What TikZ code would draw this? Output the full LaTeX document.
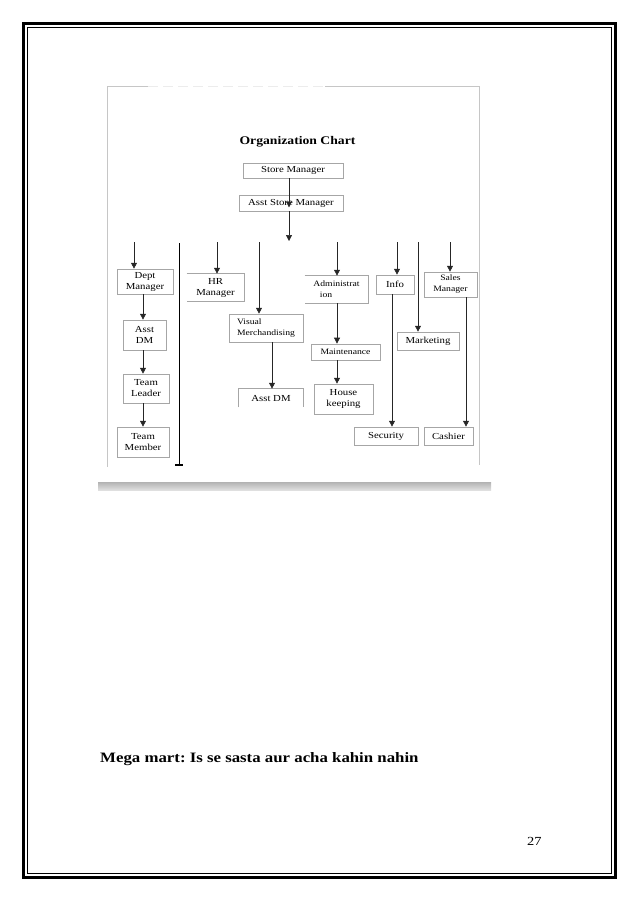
\documentclass[tikz,border=0pt]{standalone}
\usepackage{fontspec}
\setmainfont[FakeStretch=1.17]{Liberation Serif}
\usetikzlibrary{arrows.meta}
\frenchspacing

\begin{document}
\begin{tikzpicture}[x=0.933pt, y=-0.933pt,
    boxline/.style={draw=gray!70, line width=0.6pt},
    orgbox/.style={boxline, inner sep=0pt, align=center, font=\fontsize{8.6}{10.3}\selectfont},
    openbox/.style={orgbox, draw=none},
    smalltxt/.style={font=\fontsize{7.7}{10.3}\selectfont},
    arr/.style={draw=black!85, line width=0.5pt, -{Triangle[width=5.5pt,length=5.5pt]}},
    chartframe/.style={draw=gray!45, line width=0.8pt}]
\useasboundingbox (0,0) rectangle (638,903);
% Page border
    \draw[line width=2.6pt] (23.5,23.5) rectangle (615.5,877.5);
    \draw[line width=0.8pt] (27.5,27.5) rectangle (611,873.5);
% Chart frame and its shadow bar
    \draw[chartframe] (148,86) -- (107,86) -- (107,467);
    \draw[chartframe, gray!15, dash pattern=on 9pt off 5pt] (148,86) -- (325,86);
    \draw[chartframe] (325,86) -- (479,86) -- (479,465);
    \shade[top color=gray!60, bottom color=gray!25] (98,482) rectangle (491,490);
% Title
    \node[anchor=base, inner sep=0pt] (title) at (297.5,144) {\fontsize{10.9}{13}\selectfont\bfseries Organization Chart};
% Top of the chart
    \node[orgbox, minimum width=93.3pt, minimum height=14pt] (store) at (293,170.5) {Store Manager};
    \node[orgbox, minimum width=97pt, minimum height=15pt] (asst) at (291,203) {Asst Store Manager};
% Columns and free ends
    \coordinate (cS) at (289,0);
    \coordinate (cD) at (143,0);
    \coordinate (cV) at (272,0);
    \coordinate (cA) at (337,0);
    \coordinate (cI) at (392,0);
    \coordinate (cC) at (466,0);
    \coordinate (hub) at (289,241);
    \coordinate (tD) at (134,242);
    \coordinate (tH) at (217,242);
    \coordinate (tV) at (259,242);
    \coordinate (tA) at (337,242);
    \coordinate (tI) at (397,242);
    \coordinate (tM) at (418,242);
    \coordinate (tS) at (450,242);
    \coordinate (sepT) at (179,243);
    \coordinate (sepB) at (179,465);
% Department column
    \node[orgbox, minimum width=52.2pt, minimum height=23.3pt] (dept) at (145,281.5) {Dept\\Manager};
    \node[orgbox, minimum width=40.1pt, minimum height=28pt] (adm) at (144.5,335) {Asst\\DM};
    \node[orgbox, minimum width=42.9pt, minimum height=27pt] (lead) at (146,388.5) {Team\\Leader};
    \node[orgbox, minimum width=48.5pt, minimum height=28pt] (member) at (143,442) {Team\\Member};
% HR and visual merchandising
    \node[openbox, minimum width=53.2pt, minimum height=25.2pt] (hr) at (215.5,287.5) {HR\\Manager};
    \node[orgbox, smalltxt, align=left, minimum width=69pt, minimum height=26.1pt] (vm) at (266,328) {Visual\\Merchandising};
    \node[openbox, minimum width=59.7pt, minimum height=16.8pt] (vmdm) at (271,398) {Asst DM};
% Administration column
    \node[openbox, smalltxt, align=left, minimum width=58.8pt, minimum height=25.2pt] (admin) at (336.5,289.5) {Administrat\\\hspace*{6pt}ion};
    \node[orgbox, smalltxt, minimum width=64.4pt, minimum height=15pt] (maint) at (345.5,352) {Maintenance};
    \node[orgbox, minimum width=55pt, minimum height=28pt] (house) at (343.5,399) {House\\keeping};
% Info, marketing and sales
    \node[orgbox, minimum width=35.5pt, minimum height=17.7pt] (info) at (395,284.5) {Info};
    \node[orgbox, minimum width=59.7pt, minimum height=16.8pt] (security) at (386,436) {Security};
    \node[orgbox, minimum width=57.8pt, minimum height=16.8pt] (mkt) at (428,341) {Marketing};
    \node[orgbox, smalltxt, minimum width=49.4pt, minimum height=23.3pt] (sales) at (450.5,284.5) {Sales\\Manager};
    \node[orgbox, minimum width=45.7pt, minimum height=16.8pt] (cashier) at (448.5,436) {Cashier};
% Open box sides
    \draw[boxline] (hr.north west) -- (hr.north east) -- (hr.south east) -- (hr.south west);
    \draw[boxline] (admin.north west) -- (admin.north east) -- (admin.south east) -- (admin.south west);
    \draw[boxline] (vmdm.south west) -- (vmdm.north west) -- (vmdm.north east) -- (vmdm.south east);
% Arrows
    \draw[arr, shorten >=3.7pt] (cS |- store.south) -- (cS |- asst.south);
    \draw[arr] (cS |- asst.south) -- (hub);
    \draw[arr] (tD) -- (tD |- dept.north);
    \draw[arr] (cD |- dept.south) -- (cD |- adm.north);
    \draw[arr] (cD |- adm.south) -- (cD |- lead.north);
    \draw[arr] (cD |- lead.south) -- (cD |- member.north);
    \draw[arr] (tH) -- (tH |- hr.north);
    \draw[arr] (tV) -- (tV |- vm.north);
    \draw[arr] (cV |- vm.south) -- (cV |- vmdm.north);
    \draw[arr] (tA) -- (tA |- admin.north);
    \draw[arr] (cA |- admin.south) -- (cA |- maint.north);
    \draw[arr] (cA |- maint.south) -- (cA |- house.north);
    \draw[arr] (tI) -- (tI |- info.north);
    \draw[arr] (cI |- info.south) -- (cI |- security.north);
    \draw[arr] (tM) -- (tM |- mkt.north);
    \draw[arr] (tS) -- (tS |- sales.north);
    \draw[arr] (cC |- sales.south) -- (cC |- cashier.north);
% Separator line
    \draw[line width=0.7pt] (sepT) -- (sepB);
    \draw[line width=1pt] ([xshift=-3.5pt]sepB) -- ([xshift=3.5pt]sepB);
% Footer
    \node[anchor=base west, inner sep=0pt] (motto) at (100,762) {\fontsize{13.4}{16}\selectfont\bfseries Mega mart: Is se sasta aur acha kahin nahin};
    \node[anchor=base west, inner sep=0pt] (pageno) at (527,845) {\fontsize{11.5}{14}\selectfont 27};
\end{tikzpicture}
\end{document}
